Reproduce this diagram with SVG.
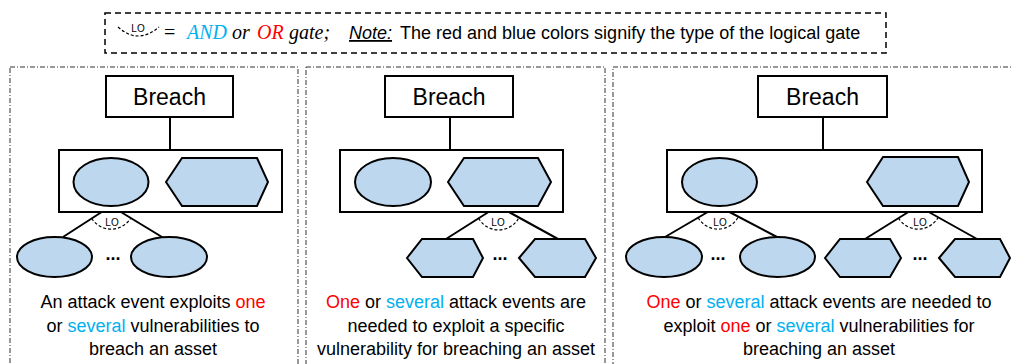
<svg xmlns="http://www.w3.org/2000/svg" width="1011" height="364" viewBox="0 0 1011 364">
<style>
  .panel { fill: none; stroke: #333; stroke-width: 1; stroke-dasharray: 5 2 1 2; }
  .box { fill: #fff; stroke: #000; stroke-width: 2; }
  .node { fill: #BDD7EE; stroke: #000; stroke-width: 2; }
  .conn { stroke: #000; stroke-width: 2; fill: none; }
  .gate { stroke: #000; stroke-width: 1.2; fill: none; stroke-dasharray: 3 2; }
  .breach { font-family: "Liberation Sans", Arial, sans-serif; font-size: 23px; text-anchor: middle; fill: #000; }
  .lo { font-family: "Liberation Sans", Arial, sans-serif; font-size: 10px; text-anchor: middle; fill: #000; }
  .dots { font-family: "Liberation Sans", Arial, sans-serif; font-size: 18px; font-weight: bold; text-anchor: middle; fill: #000; }
  .cap { font-family: "Liberation Sans", Arial, sans-serif; font-size: 18px; text-anchor: middle; fill: #000; }
  .math { font-family: "Liberation Serif", "Times New Roman", serif; font-size: 20px; font-style: italic; fill: #000; }
  .note { font-family: "Liberation Sans", Arial, sans-serif; font-size: 18px; fill: #000; }
  .red { fill: #FF0000; }
  .blue { fill: #00B0F0; }
</style>

<!-- legend -->
<g id="legend">
  <rect x="105" y="13" width="781" height="40" fill="none" stroke="#000" stroke-width="1.5" stroke-dasharray="6 4"/>
  <path class="gate" d="M118 27 Q138 45 159 27"/>
  <text class="lo" x="138" y="32">LO</text>
  <text class="math" x="164" y="39" style="font-style:normal">=</text>
  <text class="math blue" x="187" y="39">AND</text>
  <text class="math" x="232" y="39">or</text>
  <text class="math red" x="257" y="39">OR</text>
  <text class="math" x="289" y="39">gate;</text>
  <text class="note" x="349" y="39" font-style="italic" text-decoration="underline">Note:</text>
  <text class="note" x="400" y="39">The red and blue colors signify the type of the logical gate</text>
</g>

<!-- panels -->
<g id="panels">
  <rect class="panel" x="10" y="67" width="288" height="320"/>
  <rect class="panel" x="306" y="67" width="299" height="320"/>
  <rect class="panel" x="613" y="67" width="420" height="320"/>
</g>

<!-- connectors -->
<g id="connectors">
  <line class="conn" x1="170" y1="117" x2="170" y2="150"/>
  <line class="conn" x1="111" y1="206" x2="63" y2="237"/>
  <line class="conn" x1="111" y1="206" x2="162" y2="237"/>
  <path class="gate" d="M91.7 218.5 A23 23 0 0 0 130.5 218.5"/>

  <line class="conn" x1="450" y1="117" x2="450" y2="150"/>
  <line class="conn" x1="498" y1="206" x2="446" y2="239"/>
  <line class="conn" x1="498" y1="206" x2="558" y2="239"/>
  <path class="gate" d="M478.6 218.3 A23 23 0 0 0 518.3 218.8"/>

  <line class="conn" x1="823" y1="117" x2="823" y2="150"/>
  <line class="conn" x1="718" y1="206" x2="665" y2="237"/>
  <line class="conn" x1="718" y1="206" x2="777" y2="237"/>
  <path class="gate" d="M698.1 217.6 A23 23 0 0 0 738.4 216.7"/>
  <line class="conn" x1="918" y1="206" x2="865" y2="239"/>
  <line class="conn" x1="918" y1="206" x2="977" y2="239"/>
  <path class="gate" d="M898.5 218.1 A23 23 0 0 0 938.2 217.3"/>
</g>

<!-- panel 1 -->
<g id="p1-breach">
  <rect class="box" x="106" y="76" width="127" height="41"/>
  <text class="breach" x="169.5" y="105">Breach</text>
</g>
<g id="p1-container"><rect class="box" x="59" y="150" width="223" height="62"/></g>
<g id="p1-event"><ellipse class="node" cx="111" cy="182" rx="37.5" ry="24"/></g>
<g id="p1-vuln"><polygon class="node" points="166,182 182,158 257,158 268,182 257,206 182,206"/></g>
<g id="p1-gate"><text class="lo" x="112" y="226">LO</text></g>
<g id="p1-child1"><ellipse class="node" cx="54.5" cy="257" rx="37.5" ry="20"/></g>
<g id="p1-child2"><ellipse class="node" cx="169" cy="257" rx="38" ry="20"/></g>
<text class="dots" x="113" y="260">...</text>
<g id="p1-caption">
  <text class="cap" x="153" y="308">An attack event exploits <tspan class="red">one</tspan></text>
  <text class="cap" x="153" y="332">or <tspan class="blue">several</tspan> vulnerabilities to</text>
  <text class="cap" x="153" y="355">breach an asset</text>
</g>

<!-- panel 2 -->
<g id="p2-breach">
  <rect class="box" x="385" y="76" width="128" height="41"/>
  <text class="breach" x="449" y="105">Breach</text>
</g>
<g id="p2-container"><rect class="box" x="340" y="150" width="223" height="62"/></g>
<g id="p2-event"><ellipse class="node" cx="393" cy="182" rx="38" ry="24"/></g>
<g id="p2-vuln"><polygon class="node" points="448,182 464,158 538,158 551,182 538,206 464,206"/></g>
<g id="p2-gate"><text class="lo" x="498" y="226">LO</text></g>
<g id="p2-child1"><polygon class="node" points="407,258 422,239 473,239 483,258 473,277 422,277"/></g>
<g id="p2-child2"><polygon class="node" points="519,258 535,239 585,239 596,258 585,277 535,277"/></g>
<text class="dots" x="500" y="260">...</text>
<g id="p2-caption">
  <text class="cap" x="456" y="308"><tspan class="red">One</tspan> or <tspan class="blue">several</tspan> attack events are</text>
  <text class="cap" x="456" y="332">needed to exploit a specific</text>
  <text class="cap" x="456" y="355">vulnerability for breaching an asset</text>
</g>

<!-- panel 3 -->
<g id="p3-breach">
  <rect class="box" x="758" y="76" width="129" height="41"/>
  <text class="breach" x="822.5" y="105">Breach</text>
</g>
<g id="p3-container"><rect class="box" x="667" y="150" width="315" height="62"/></g>
<g id="p3-event"><ellipse class="node" cx="719.5" cy="182" rx="37.5" ry="24"/></g>
<g id="p3-vuln"><polygon class="node" points="867,182 883,157 958,157 969,182 958,206 883,206"/></g>
<g id="p3-gate1"><text class="lo" x="720" y="226">LO</text></g>
<g id="p3-gate2"><text class="lo" x="920" y="226">LO</text></g>
<g id="p3-child1"><ellipse class="node" cx="664" cy="257" rx="38" ry="20"/></g>
<g id="p3-child2"><ellipse class="node" cx="777.5" cy="257" rx="37.5" ry="20"/></g>
<g id="p3-child3"><polygon class="node" points="825,258 840,239 890,239 901,258 890,277 840,277"/></g>
<g id="p3-child4"><polygon class="node" points="939,258 955,239 1000,239 1010,258 1000,277 955,277"/></g>
<text class="dots" x="718" y="260">...</text>
<text class="dots" x="920" y="260">...</text>
<g id="p3-caption">
  <text class="cap" x="819" y="308"><tspan class="red">One</tspan> or <tspan class="blue">several</tspan> attack events are needed to</text>
  <text class="cap" x="819" y="332">exploit <tspan class="red">one</tspan> or <tspan class="blue">several</tspan> vulnerabilities for</text>
  <text class="cap" x="819" y="355">breaching an asset</text>
</g>
</svg>
